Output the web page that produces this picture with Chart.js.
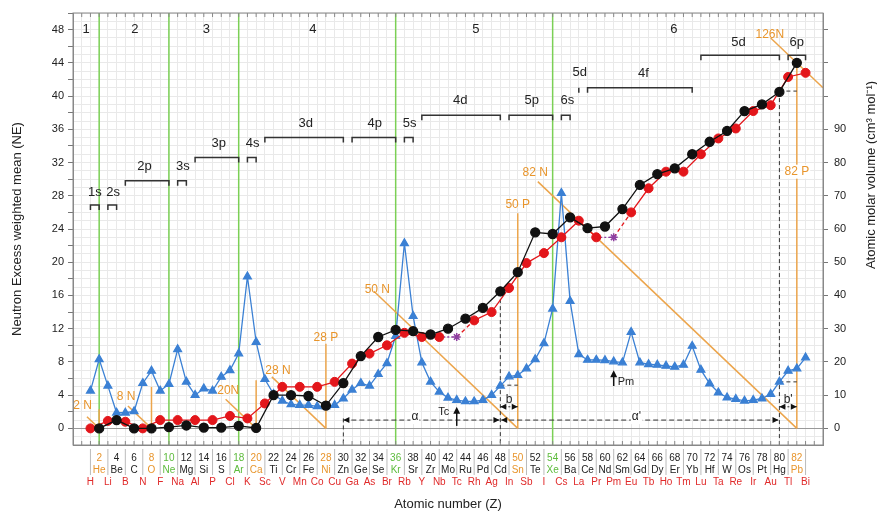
<!DOCTYPE html>
<html>
<head>
<meta charset="utf-8">
<script src="https://cdn.jsdelivr.net/npm/chart.js@4.4.1/dist/chart.umd.min.js"></script>
<style>
  html, body { margin: 0; padding: 0; background: #fff; }
  #wrap { width: 877px; height: 514px; }
</style>
</head>
<body>
<div id="wrap"><canvas id="grafica"></canvas></div>
<script>
const symbols = ['H','He','Li','Be','B','C','N','O','F','Ne','Na','Mg','Al','Si','P','S','Cl','Ar','K','Ca',
  'Sc','Ti','V','Cr','Mn','Fe','Co','Ni','Cu','Zn','Ga','Ge','As','Se','Br','Kr','Rb','Sr','Y','Zr',
  'Nb','Mo','Tc','Ru','Rh','Pd','Ag','Cd','In','Sn','Sb','Te','I','Xe','Cs','Ba','La','Ce','Pr','Nd',
  'Pm','Sm','Eu','Gd','Tb','Dy','Ho','Er','Tm','Yb','Lu','Hf','Ta','W','Re','Os','Ir','Pt','Au','Hg',
  'Tl','Pb','Bi'];

const evenZ = [2,4,6,8,10,12,14,16,18,20,22,24,26,28,30,32,34,36,38,40,42,44,46,48,50,52,54,56,58,60,
  62,64,66,68,70,72,74,76,78,80,82];
const neEven = [0.0,1.0,0.0,0.0,0.15,0.35,0.1,0.1,0.3,0.05,4.0,4.0,3.9,2.75,5.45,8.7,11.0,11.85,11.7,11.3,
  12.0,13.2,14.5,16.5,18.8,23.6,23.4,25.4,24.1,24.3,26.4,29.3,30.6,31.3,33.0,34.5,35.8,38.2,39.0,40.5,44.0];

const oddZ = [1,3,5,7,9,11,13,15,17,19,21,23,25,27,29,31,33,35,37,39,41,43,45,47,49,51,53,55,57,59,
  61,63,65,67,69,71,73,75,77,79,81,83];
const neOdd = [0.0,0.9,0.8,0.0,1.0,1.0,1.0,1.0,1.5,1.2,3.0,5.0,5.0,5.0,5.6,7.8,9.0,10.0,11.5,11.0,
  11.0,11.0,13.0,14.0,16.9,19.9,21.1,23.0,25.0,23.0,23.0,26.0,28.9,30.9,30.9,33.0,34.9,36.1,38.2,38.9,42.3,42.8];
const starZ = [43, 61];

// molar volume for Z = 1..83
const molarVolume = [11.3,20.8,12.8,4.7,4.7,5.1,13.6,17.3,11.3,13.3,23.8,14.0,10.0,12.0,11.3,15.5,17.5,22.5,45.7,26.0,
  14.8,10.3,8.3,7.2,7.0,7.0,6.6,6.6,7.0,9.0,11.6,13.6,12.8,16.3,19.6,27.8,55.7,33.8,19.8,14.0,
  11.0,9.2,8.5,8.1,8.1,8.5,10.0,12.8,15.6,16.0,18.0,20.8,25.6,36.0,70.8,38.3,22.3,20.6,20.6,20.5,
  20.1,19.8,29.0,19.8,19.3,19.1,18.8,18.5,19.1,24.8,17.6,13.5,10.8,9.3,8.8,8.3,8.5,9.0,10.3,14.0,
  17.3,18.0,21.3];

const rightTicks = [0, 10, 20, 30, 40, 50, 60, 70, 80, 90, 100, 110, 120];

const nobleGasZ = [2, 10, 18, 36, 54];
const orangeZ = [2, 8, 20, 28, 50, 82];

const periods = [['1', 0.5, 48], ['2', 6.1, 48], ['3', 14.3, 48], ['4', 26.5, 48], ['5', 45.2, 48], ['6', 67.9, 48]];

// [label, z start, z end, level, label z, label level]
const shells = [
  ['1s', 1, 2, 26.9, 1.5, 28.4], ['2s', 3, 4, 26.9, 3.6, 28.4],
  ['2p', 5, 10, 29.8, 7.2, 31.5], ['3s', 11, 12, 29.8, 11.6, 31.5],
  ['3p', 13, 18, 32.6, 15.7, 34.3], ['4s', 19, 20, 32.6, 19.6, 34.3],
  ['3d', 21, 30, 35.0, 25.7, 36.7], ['4p', 31, 36, 35.0, 33.6, 36.7], ['5s', 37, 38, 35.0, 37.6, 36.7],
  ['4d', 39, 48, 37.7, 43.4, 39.5], ['5p', 49, 54, 37.7, 51.6, 39.5], ['6s', 55, 56, 37.7, 55.7, 39.5],
  ['5d', 57, 57, 41.0, 57.1, 42.9], ['4f', 58, 70, 41.0, 64.4, 42.7],
  ['5d', 71, 80, 44.9, 75.3, 46.4], ['6p', 81, 83, 44.9, 82.0, 46.4]
];

// magic neutron numbers: [N, z start, label, label z, label level]
const neutronLines = [
  [2, 0.6, '2 N', 0.1, 2.7], [8, 5.3, '8 N', 5.1, 3.8], [20, 16.5, '20N', 16.8, 4.5],
  [28, 21.8, '28 N', 22.5, 7.0], [50, 33.5, '50 N', 33.9, 16.7], [82, 52.3, '82 N', 52.0, 30.8],
  [126, 79.0, '126N', 78.9, 47.4]
];
// magic proton numbers: [Z, top, label, label level]
const protonLines = [
  [2, 2.3, '', 0], [8, 5.0, '', 0], [20, 5.8, '', 0],
  [28, 10.2, '28 P', 10.9], [50, 25.9, '50 P', 26.9], [82, 44.0, '82 P', 30.9]
];

const BLUE = '#3B80D4', RED = '#E3161B', BLACK = '#111', PURPLE = '#8E3FA0';
const ORANGE = '#ECA54C', GREEN = '#7BD055';
const FONT = 'Arial, "Liberation Sans", sans-serif';

function line(ctx, x0, y0, x1, y1) {
    ctx.beginPath(); ctx.moveTo(x0, y0); ctx.lineTo(x1, y1); ctx.stroke();
}

function head(ctx, x, y, dir) {
    // dir: 'l', 'r', 'u'
    ctx.beginPath();
    if (dir === 'r') { ctx.moveTo(x, y); ctx.lineTo(x - 6, y - 3); ctx.lineTo(x - 6, y + 3); }
    else if (dir === 'l') { ctx.moveTo(x, y); ctx.lineTo(x + 6, y - 3); ctx.lineTo(x + 6, y + 3); }
    else { ctx.moveTo(x, y); ctx.lineTo(x - 3.5, y + 7); ctx.lineTo(x + 3.5, y + 7); }
    ctx.closePath(); ctx.fill();
}

function label(ctx, text, x, y, color, size, bg) {
    ctx.font = size + 'px ' + FONT;
    ctx.textAlign = 'center'; ctx.textBaseline = 'middle';
    if (bg) {
        const w = ctx.measureText(text).width;
        ctx.fillStyle = '#fff';
        ctx.fillRect(x - w / 2 - 1, y - size / 2 - 1, w + 2, size + 2);
    }
    ctx.fillStyle = color;
    ctx.fillText(text, x, y);
}

const decor = {
    id: 'decor',
    beforeDatasetsDraw(chart) {
        const { ctx, chartArea: a, scales } = chart;
        const X = v => scales.x.getPixelForValue(v), Y = v => scales.y.getPixelForValue(v);
        ctx.save();
        ctx.beginPath(); ctx.rect(a.left, a.top, a.right - a.left, a.bottom - a.top); ctx.clip();

        ctx.strokeStyle = GREEN; ctx.lineWidth = 1.5;
        nobleGasZ.forEach(z => line(ctx, X(z), a.top, X(z), a.bottom));

        ctx.strokeStyle = ORANGE; ctx.lineWidth = 1.5;
        neutronLines.forEach(([n, z0]) => {
            const z1 = Math.min(n, 85);
            line(ctx, X(z0), Y(n - z0), X(z1), Y(n - z1));
        });
        protonLines.forEach(([z, top]) => line(ctx, X(z), Y(0), X(z), Y(top)));

        // dashed guides
        ctx.strokeStyle = '#333'; ctx.lineWidth = 1; ctx.setLineDash([4, 3]);
        line(ctx, X(30), Y(1.2), X(30), a.bottom);
        line(ctx, X(48), Y(16.4), X(48), a.bottom);
        line(ctx, X(80), Y(40.6), X(80), a.bottom);
        line(ctx, X(48), Y(16.4), X(49), Y(16.4));
        line(ctx, X(48), Y(5.2), X(50), Y(5.2));
        line(ctx, X(80), Y(40.6), X(82), Y(40.6));
        line(ctx, X(80), Y(5.6), X(82), Y(5.6));
        ctx.setLineDash([5, 3]);
        line(ctx, X(30), Y(1.0), X(47.9), Y(1.0));
        line(ctx, X(48.1), Y(1.0), X(79.9), Y(1.0));
        ctx.setLineDash([2, 2]);
        line(ctx, X(48), Y(2.6), X(50), Y(2.6));
        line(ctx, X(80), Y(2.6), X(82), Y(2.6));
        ctx.setLineDash([]);
        ctx.restore();
    },
    afterDatasetsDraw(chart) {
        const { ctx, chartArea: a, scales } = chart;
        const X = v => scales.x.getPixelForValue(v), Y = v => scales.y.getPixelForValue(v);
        ctx.save();

        // frame and inner ticks
        ctx.strokeStyle = '#888'; ctx.lineWidth = 1;
        ctx.strokeRect(a.left, a.top, a.right - a.left, a.bottom - a.top);
        for (let z = 0; z <= 84; z++) {
            line(ctx, X(z), a.top, X(z), a.top + 4);
            line(ctx, X(z), a.bottom, X(z), a.bottom - 4);
        }
        ctx.strokeStyle = '#bbb';
        oddZ.forEach(z => line(ctx, X(z), a.bottom + 4, X(z), a.bottom + 30));

        // arrowheads
        ctx.fillStyle = '#111';
        head(ctx, X(30), Y(1.0), 'l'); head(ctx, X(47.9), Y(1.0), 'r');
        head(ctx, X(48.1), Y(1.0), 'l'); head(ctx, X(79.9), Y(1.0), 'r');
        head(ctx, X(48), Y(2.6), 'l'); head(ctx, X(50), Y(2.6), 'r');
        head(ctx, X(80), Y(2.6), 'l'); head(ctx, X(82), Y(2.6), 'r');
        ctx.strokeStyle = '#111'; ctx.lineWidth = 1.5;
        line(ctx, X(43), Y(0.3), X(43), Y(2.2)); head(ctx, X(43), Y(2.6), 'u');
        line(ctx, X(61), Y(5.1), X(61), Y(6.6)); head(ctx, X(61), Y(7.0), 'u');

        label(ctx, 'α', X(38.2), Y(1.35), '#222', 12, true);
        label(ctx, "α'", X(63.6), Y(1.35), '#222', 12, true);
        label(ctx, 'b', X(49.0), Y(3.5), '#222', 12, false);
        label(ctx, "b'", X(81.0), Y(3.5), '#222', 12, false);
        label(ctx, 'Tc', X(41.5), Y(2.0), '#222', 11, false);
        label(ctx, 'Pm', X(62.4), Y(5.6), '#222', 11, false);

        // shells
        ctx.strokeStyle = '#333'; ctx.lineWidth = 1.5;
        shells.forEach(([t, z0, z1, v, lz, lv]) => {
            const yy = Y(v);
            ctx.beginPath();
            ctx.moveTo(X(z0), yy + 5); ctx.lineTo(X(z0), yy); ctx.lineTo(X(z1), yy); ctx.lineTo(X(z1), yy + 5);
            ctx.stroke();
            label(ctx, t, X(lz), Y(lv), '#222', 13, false);
        });
        periods.forEach(([t, z, v]) => label(ctx, t, X(z), Y(v), '#222', 13, false));

        neutronLines.forEach(([n, z0, t, lz, lv]) => label(ctx, t, X(lz), Y(lv), '#E8952C', 12, false));
        protonLines.forEach(([z, top, t, lv]) => {
            if (t) label(ctx, t, X(z), Y(lv), '#E8952C', 12, z === 82);
        });

        // right axis title reads bottom to top
        ctx.translate(871, 175);
        ctx.rotate(-Math.PI / 2);
        label(ctx, 'Atomic molar volume (cm³ mol⁻¹)', 0, 0, '#222', 13, false);
        ctx.restore();
    }
};

function tickColor(z) {
    if (z % 2 !== 0) return '#E02A2A';
    if (orangeZ.includes(z)) return '#E8952C';
    if (nobleGasZ.includes(z)) return '#5DBB3C';
    return '#222';
}

const isStar = c => c.raw && starZ.includes(c.raw.x);

new Chart(document.getElementById('grafica'), {
    type: 'line',
    data: {
        datasets: [
            {
                data: evenZ.map((z, i) => ({ x: z, y: neEven[i] })),
                borderColor: BLACK, backgroundColor: BLACK, borderWidth: 1.3,
                pointRadius: 4.5, pointHoverRadius: 4.5, order: 1
            },
            {
                data: oddZ.map((z, i) => ({ x: z, y: neOdd[i] })),
                borderColor: RED, borderWidth: 1.3,
                backgroundColor: c => isStar(c) ? PURPLE : RED,
                pointBorderColor: c => isStar(c) ? PURPLE : RED,
                pointStyle: c => isStar(c) ? 'star' : 'circle',
                pointRadius: c => isStar(c) ? 4 : 4.5,
                pointBorderWidth: c => isStar(c) ? 1.5 : 1,
                segment: {
                    borderColor: s => starZ.includes(s.p1.parsed.x) ? PURPLE : undefined,
                    borderDash: s => starZ.includes(s.p1.parsed.x) ? [2, 2]
                        : (starZ.includes(s.p0.parsed.x) ? [4, 3] : undefined)
                },
                order: 2
            },
            {
                data: molarVolume.map((v, i) => ({ x: i + 1, y: v })),
                yAxisID: 'y2',
                borderColor: BLUE, backgroundColor: BLUE, borderWidth: 1.3,
                pointStyle: 'triangle', pointRadius: 4.5, order: 3
            }
        ]
    },
    options: {
        responsive: true,
        maintainAspectRatio: false,
        animation: false,
        layout: { padding: { top: 13, left: 0, right: 0, bottom: 0 } },
        plugins: { legend: { display: false }, tooltip: { enabled: false } },
        scales: {
            x: {
                type: 'linear', min: -1, max: 85,
                grid: { color: '#e9e9e9', drawTicks: false },
                border: { color: '#888' },
                ticks: {
                    stepSize: 1, autoSkip: false, maxRotation: 0, minRotation: 0, maxTicksLimit: 200,
                    padding: 7,
                    font: { family: FONT, size: 10, lineHeight: 1.2 },
                    color: c => tickColor(c.tick.value),
                    callback: v => {
                        if (v < 1 || v > 83) return '';
                        const s = symbols[v - 1];
                        return v % 2 === 0 ? [String(v), s] : ['', '', s];
                    }
                },
                title: { display: true, text: 'Atomic number (Z)', color: '#222', font: { family: FONT, size: 13 }, padding: { top: 0, bottom: 2 } },
                afterFit: s => { s.height = 69; }
            },
            y: {
                position: 'left', min: -2, max: 50,
                grid: {
                    color: c => c.tick.value === 0 ? '#999' : '#e9e9e9',
                    tickColor: c => (c.tick.value % 2 === 0 && c.tick.value >= 0) ? '#777' : 'rgba(0,0,0,0)',
                    tickLength: 5
                },
                border: { color: '#888' },
                ticks: {
                    stepSize: 1, maxTicksLimit: 200, autoSkip: false, padding: 4,
                    color: '#222', font: { family: FONT, size: 11 },
                    callback: v => (v >= 0 && v % 4 === 0) ? v : ''
                },
                title: { display: true, text: 'Neutron Excess weighted mean (NE)', color: '#222', font: { family: FONT, size: 13 }, padding: { top: 10, bottom: 0 } },
                afterFit: s => { s.width = 73; }
            },
            y2: {
                position: 'right', min: -5, max: 125,
                afterBuildTicks: s => { s.ticks = rightTicks.map(v => ({ value: v })); },
                grid: { drawOnChartArea: false, tickLength: 5, tickColor: '#777' },
                border: { color: '#888' },
                ticks: {
                    autoSkip: false, padding: 6,
                    color: '#222', font: { family: FONT, size: 11 },
                    callback: v => (v <= 90) ? v : ''
                },
                afterFit: s => { s.width = 54; }
            }
        }
    },
    plugins: [decor]
});
</script>
</body>
</html>
